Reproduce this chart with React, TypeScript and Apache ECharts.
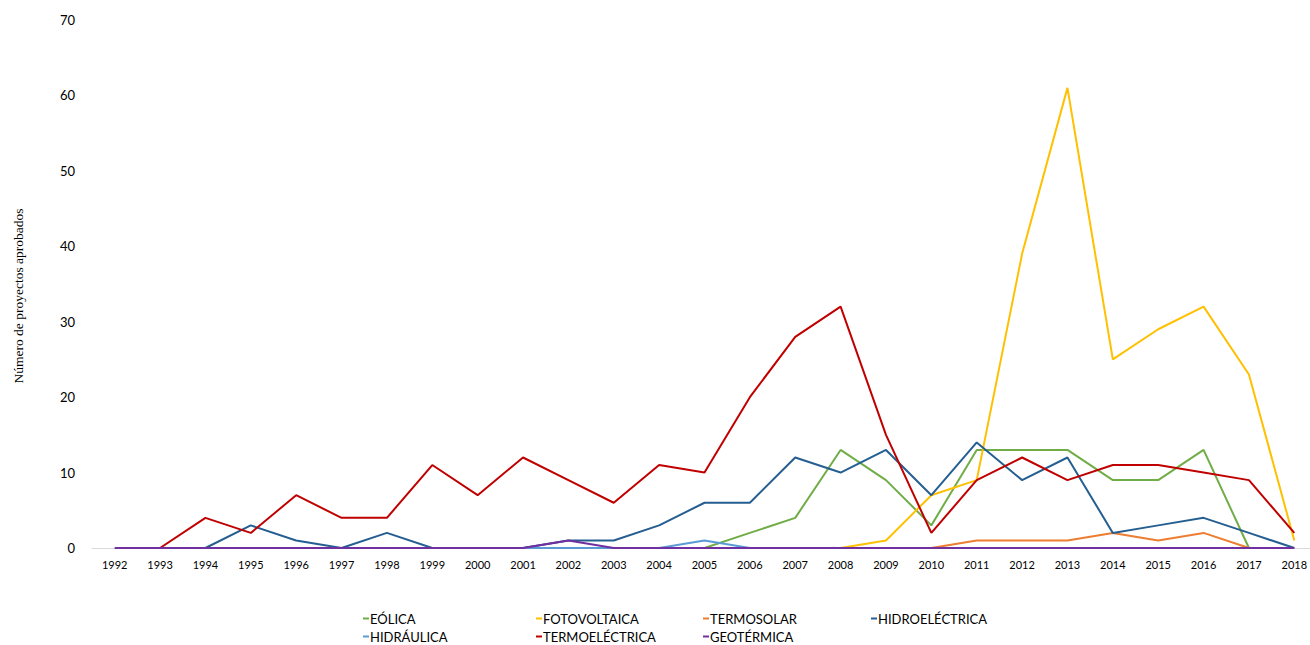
import React, { useEffect, useRef } from "react";
import * as echarts from "echarts";

const years = [
  "1992", "1993", "1994", "1995", "1996", "1997", "1998", "1999", "2000",
  "2001", "2002", "2003", "2004", "2005", "2006", "2007", "2008", "2009",
  "2010", "2011", "2012", "2013", "2014", "2015", "2016", "2017", "2018",
];

const _ = null;

const eolica = [_, _, _, _, _, _, _, _, _, _, _, _, _, 0, 2, 4, 13, 9, 3, 13, 13, 13, 9, 9, 13, 0, _];
const fotovoltaica = [_, _, _, _, _, _, _, _, _, _, _, _, _, _, _, _, 0, 1, 7, 9, 39, 61, 25, 29, 32, 23, 1];
const termosolar = [_, _, _, _, _, _, _, _, _, _, _, _, _, _, _, _, 0, 0, 0, 1, 1, 1, 2, 1, 2, 0, _];
const hidroelectrica = [_, _, 0, 3, 1, 0, 2, 0, 0, 0, 1, 1, 3, 6, 6, 12, 10, 13, 7, 14, 9, 12, 2, 3, 4, 2, 0];
const hidraulica = [_, _, _, _, _, _, _, _, _, 0, 0, 0, 0, 1, 0, _, _, _, _, _, _, _, _, _, _, _, _];
const termoelectrica = [_, 0, 4, 2, 7, 4, 4, 11, 7, 12, 9, 6, 11, 10, 20, 28, 32, 15, 2, 9, 12, 9, 11, 11, 10, 9, 2];
const geotermica = [0, 0, 0, 0, 0, 0, 0, 0, 0, 0, 1, 0, 0, 0, 0, 0, 0, 0, 0, 0, 0, 0, 0, 0, 0, 0, 0];

const seriesNames = [
  "EÓLICA", "FOTOVOLTAICA", "TERMOSOLAR", "HIDROELÉCTRICA",
  "HIDRÁULICA", "TERMOELÉCTRICA", "GEOTÉRMICA",
];
const seriesData = [eolica, fotovoltaica, termosolar, hidroelectrica, hidraulica, termoelectrica, geotermica];
const seriesColors = ["#70AD47", "#FFC000", "#ED7D31", "#255E91", "#5B9BD5", "#C00000", "#7030A0"];

const yTitle = "Número de proyectos aprobados";

// legend slots: four columns on the first row, three on the second
const legendCols = [363, 536, 703, 871];
const legendRows = [612, 630];

export default function App() {
  const ref = useRef<HTMLDivElement>(null);

  useEffect(() => {
    if (!ref.current) return;
    const chart = echarts.init(ref.current, null, { renderer: "svg" });

    const legends = seriesNames.map((name, i) => ({
      data: [name],
      left: legendCols[i < 4 ? i : i - 4],
      top: legendRows[i < 4 ? 0 : 1],
      padding: 0,
      icon: "rect",
      itemWidth: 6,
      itemHeight: 2,
      textStyle: {
        fontFamily: "Lato",
        fontSize: 13,
        color: "#000",
        padding: [0, 0, 0, -4],
      },
    }));

    chart.setOption({
      animation: false,
      backgroundColor: "#fff",
      legend: legends,
      // the plot runs past the right edge of the visible frame
      grid: { left: 92, top: 20, width: 1225, height: 528 },
      graphic: [
        {
          type: "text",
          x: 18,
          y: 296,
          rotation: Math.PI / 2,
          style: {
            text: yTitle,
            fontFamily: "Liberation Serif",
            fontSize: 13.5,
            fill: "#000",
            align: "center",
            verticalAlign: "middle",
          },
        },
      ],
      xAxis: {
        type: "category",
        data: years,
        boundaryGap: true,
        axisLine: { show: true, lineStyle: { color: "#D9D9D9", width: 1 } },
        axisTick: { show: false },
        axisLabel: { color: "#000", fontFamily: "Lato", fontSize: 11, margin: 11 },
      },
      yAxis: {
        type: "value",
        min: 0,
        max: 70,
        interval: 10,
        axisLine: { show: false },
        axisTick: { show: false },
        splitLine: { show: false },
        axisLabel: { color: "#000", fontFamily: "Lato", fontSize: 13, margin: 17 },
      },
      series: seriesNames.map((name, i) => ({
        name,
        type: "line",
        data: seriesData[i],
        color: seriesColors[i],
        showSymbol: false,
        symbol: "none",
        connectNulls: false,
        lineStyle: { width: 2, color: seriesColors[i] },
      })),
    });

    return () => chart.dispose();
  }, []);

  return (
    <div
      style={{
        position: "fixed",
        left: 0,
        top: 0,
        width: 1310,
        height: 645,
        overflow: "hidden",
        background: "#fff",
      }}
    >
      <div ref={ref} style={{ width: 1340, height: 645 }} />
    </div>
  );
}
